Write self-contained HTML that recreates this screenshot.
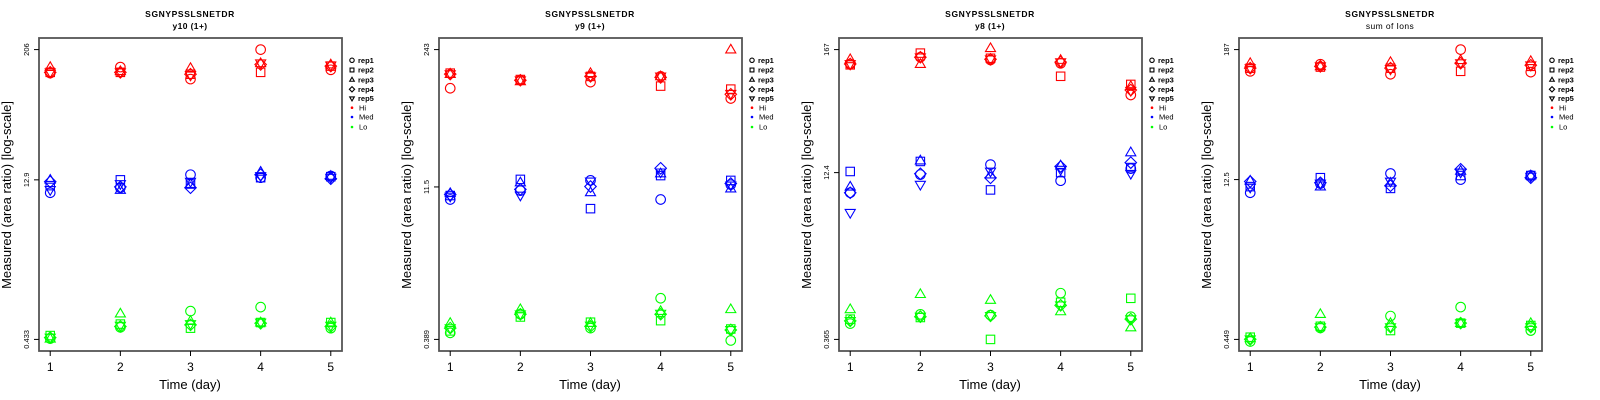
<!DOCTYPE html>
<html><head><meta charset="utf-8">
<style>
html,body{margin:0;padding:0;background:#fff;}
svg{display:block;font-family:"Liberation Sans",sans-serif;}
</style></head>
<body>
<svg id="chart" width="1600" height="400" viewBox="0 0 1600 400" xmlns="http://www.w3.org/2000/svg"></svg>
<script>
// ---- data (reps: circle, square, triangle, diamond, inv-triangle) ----
const days = [1, 2, 3, 4, 5];
const panelTitles = ["y10 (1+)", "y9 (1+)", "y8 (1+)", "sum of Ions"];
const peptide = "SGNYPSSLSNETDR";
const tickLabels = [["206","12.9","0.433"],["243","11.5","0.389"],["167","12.4","0.365"],["187","12.5","0.449"]];
const tickValues = [[206,12.9,0.433],[243,11.5,0.389],[167,12.4,0.365],[187,12.5,0.449]];
const groups = ["Hi","Med","Lo"];
const groupColors = ["#ff0000","#0000ff","#00ff00"];
const reps = ["rep1","rep2","rep3","rep4","rep5"];

// values[panel][group][day] = [rep1..rep5]
const p1Hi  = [[125,127,142,127,127],[142,127,130,127,127],[110,122,139,122,119],[206,127,154,150,154],[134,145,150,145,147]];
const p1Med = [[9.8,11.4,12.9,12.4,10.4],[10.9,12.9,10.4,11.1,11.8],[14.4,11.8,11.8,10.9,12.4],[13.5,13.5,15.3,14.4,14.0],[14.0,13.8,14.0,13.2,13.5]];
const p1Lo  = [[0.44,0.47,0.44,0.45,0.45],[0.56,0.60,0.75,0.57,0.58],[0.79,0.55,0.64,0.59,0.60],[0.86,0.62,0.62,0.61,0.62],[0.55,0.62,0.62,0.57,0.58]];
const p2Hi  = [[103,144,141,141,141],[123,125,120,123,123],[118,134,144,134,134],[134,108,134,131,134],[82,101,243,90,91]];
const p2Med = [[8.7,9.5,10,9.7,9.3],[10.6,13.6,12.7,10.9,9.5],[13.3,7.1,10.2,11.6,13],[8.7,14.8,15.5,17.4,15.9],[12.1,13.3,11.1,12.4,11.9]];
const p2Lo  = [[0.45,0.47,0.56,0.50,0.50],[0.68,0.64,0.76,0.68,0.68],[0.50,0.57,0.56,0.52,0.53],[0.97,0.59,0.73,0.68,0.69],[0.38,0.49,0.76,0.48,0.48]];
const p3Hi  = [[123,121,136,123,123],[142,155,123,142,142],[134,139,172,136,136],[125,95,134,128,128],[64,80,77,71,70]];
const p3Med = [[8.1,12.7,9.2,8.1,5.3],[11.9,15.7,16,12.1,9.6],[14.7,8.6,11.9,11.1,12.7],[10.45,12.4,14.4,14.1,13.2],[13.5,13.8,19,15.3,12.1]];
const p3Lo  = [[0.51,0.56,0.69,0.54,0.54],[0.62,0.58,0.95,0.59,0.59],[0.61,0.365,0.84,0.60,0.60],[0.97,0.80,0.66,0.75,0.75],[0.59,0.87,0.47,0.56,0.56]];
const p4Hi  = [[119,127,141,127,127],[138,130,132,132,132],[112,127,144,127,124],[187,119,150,141,141],[117,132,147,135,135]];
const p4Med = [[9.5,10.8,12.2,12,10.6],[11.5,13,10.8,11.7,11.5],[14.2,10.4,11.7,11,12],[12.5,13.6,15,15.5,14.5],[13.6,13.6,13.6,13,13.3]];
const p4Lo  = [[0.43,0.47,0.46,0.45,0.45],[0.57,0.59,0.76,0.58,0.58],[0.73,0.54,0.63,0.58,0.58],[0.88,0.63,0.63,0.63,0.63],[0.54,0.60,0.63,0.58,0.58]];
const panelData = [[p1Hi,p1Med,p1Lo],[p2Hi,p2Med,p2Lo],[p3Hi,p3Med,p3Lo],[p4Hi,p4Med,p4Lo]];

const NS = "http://www.w3.org/2000/svg";
const svg = document.getElementById("chart");
function mk(tag, attrs, parent){ const e=document.createElementNS(NS,tag); for(const k in attrs) e.setAttribute(k,attrs[k]); (parent||svg).appendChild(e); return e; }

const BOX_L=39, BOX_R=342, BOX_T=38, BOX_B=351;
function marker(g, shape, cx, cy, color, r){
  let e;
  if(shape===0) e=mk("circle",{cx:cx,cy:cy,r:r,fill:"none",stroke:color,"stroke-width":1.1},g);
  else if(shape===1) e=mk("rect",{x:cx-r*0.88,y:cy-r*0.88,width:r*1.76,height:r*1.76,fill:"none",stroke:color,"stroke-width":1.1},g);
  else if(shape===2) e=mk("polygon",{points:`${cx},${cy-r*1.1} ${cx+r*1.05},${cy+r*0.7} ${cx-r*1.05},${cy+r*0.7}`,fill:"none",stroke:color,"stroke-width":1.1},g);
  else if(shape===3) e=mk("polygon",{points:`${cx},${cy-r*1.2} ${cx+r*1.2},${cy} ${cx},${cy+r*1.2} ${cx-r*1.2},${cy}`,fill:"none",stroke:color,"stroke-width":1.1},g);
  else e=mk("polygon",{points:`${cx},${cy+r*1.1} ${cx+r*1.05},${cy-r*0.7} ${cx-r*1.05},${cy-r*0.7}`,fill:"none",stroke:color,"stroke-width":1.1},g);
  return e;
}

for(let p=0;p<4;p++){
  const ox=p*400;
  const g=mk("g",{transform:`translate(${ox},0)`});
  
  
  const hi=tickValues[p][0], lo=tickValues[p][2];
  const lhi=Math.log(hi), llo=Math.log(lo), span=lhi-llo;
  const yMin=llo-span*0.04, yMax=lhi+span*0.04;
  const yS=v=>BOX_B-(Math.log(v)-yMin)/(yMax-yMin)*(BOX_B-BOX_T);
  const xMin=1-0.16, xMax=5+0.16;
  const xS=d=>BOX_L+(d-xMin)/(xMax-xMin)*(BOX_R-BOX_L);

  const t1=mk("text",{x:190,y:17,"text-anchor":"middle","font-size":8.5,"font-weight":"bold","letter-spacing":"0.6"},g);
  t1.textContent=peptide;
  
  
  const t2=mk("text",{x:190,y:29,"text-anchor":"middle","font-size":8.5,"font-weight":p===3?"normal":"bold","letter-spacing":"0.4"},g);
  t2.textContent=panelTitles[p];
  
  

  // points
  for(let gi=0;gi<3;gi++){
    for(let di=0;di<days.length;di++){
      for(let ri=0;ri<5;ri++){
        const v=panelData[p][gi][di][ri];
        const m=marker(g,ri,xS(days[di]),yS(v),groupColors[gi],4.8);
        
        
      }
    }
  }

  const box=mk("rect",{x:BOX_L,y:BOX_T,width:BOX_R-BOX_L,height:BOX_B-BOX_T,fill:"none",stroke:"#555",
    "stroke-width":1.8},g);
  
  

  // y ticks
  for(let k=0;k<3;k++){
    const y=yS(tickValues[p][k]);
    const tl=mk("line",{x1:BOX_L,x2:BOX_L-5,y1:y,y2:y,stroke:"#000","stroke-width":1},g);
    
    
    const tx=mk("text",{x:0,y:0,"text-anchor":"middle","font-size":7.5,transform:`translate(29,${y}) rotate(-90)`},g);
    tx.textContent=tickLabels[p][k];
    
    
  }
  // x ticks
  for(const d of days){
    const x=xS(d);
    const tl=mk("line",{x1:x,x2:x,y1:BOX_B,y2:BOX_B+5,stroke:"#000","stroke-width":1},g);
    
    
    const tx=mk("text",{x:x,y:371,"text-anchor":"middle","font-size":12},g);
    tx.textContent=String(d);
    
    
  }
  const xt=mk("text",{x:190,y:389,"text-anchor":"middle","font-size":13},g);
  xt.textContent="Time (day)";
  
  
  const yt=mk("text",{x:0,y:0,"text-anchor":"middle","font-size":13,transform:"translate(11,195) rotate(-90)"},g);
  yt.textContent="Measured (area ratio) [log-scale]";
  
  

  // legend
  const lg=mk("g",{},g);
  
  
  const rowsY=[60.3,70,79.7,89.3,98.5,107.7,117,127];
  for(let r=0;r<5;r++){
    const m=marker(lg,r,352,rowsY[r],"#000",2.2);
    
    
    const t=mk("text",{x:358,y:rowsY[r]+2.6,"font-size":7.5,"font-weight":"bold"},lg);
    t.textContent=reps[r];
    
    
  }
  for(let k=0;k<3;k++){
    const y=rowsY[5+k];
    const c=mk("circle",{cx:352,cy:y,r:1.3,fill:groupColors[k]},lg);
    
    
    const t=mk("text",{x:359,y:y+2.6,"font-size":7.5},lg);
    t.textContent=groups[k];
    
    
  }
}
</script>
</body></html>
